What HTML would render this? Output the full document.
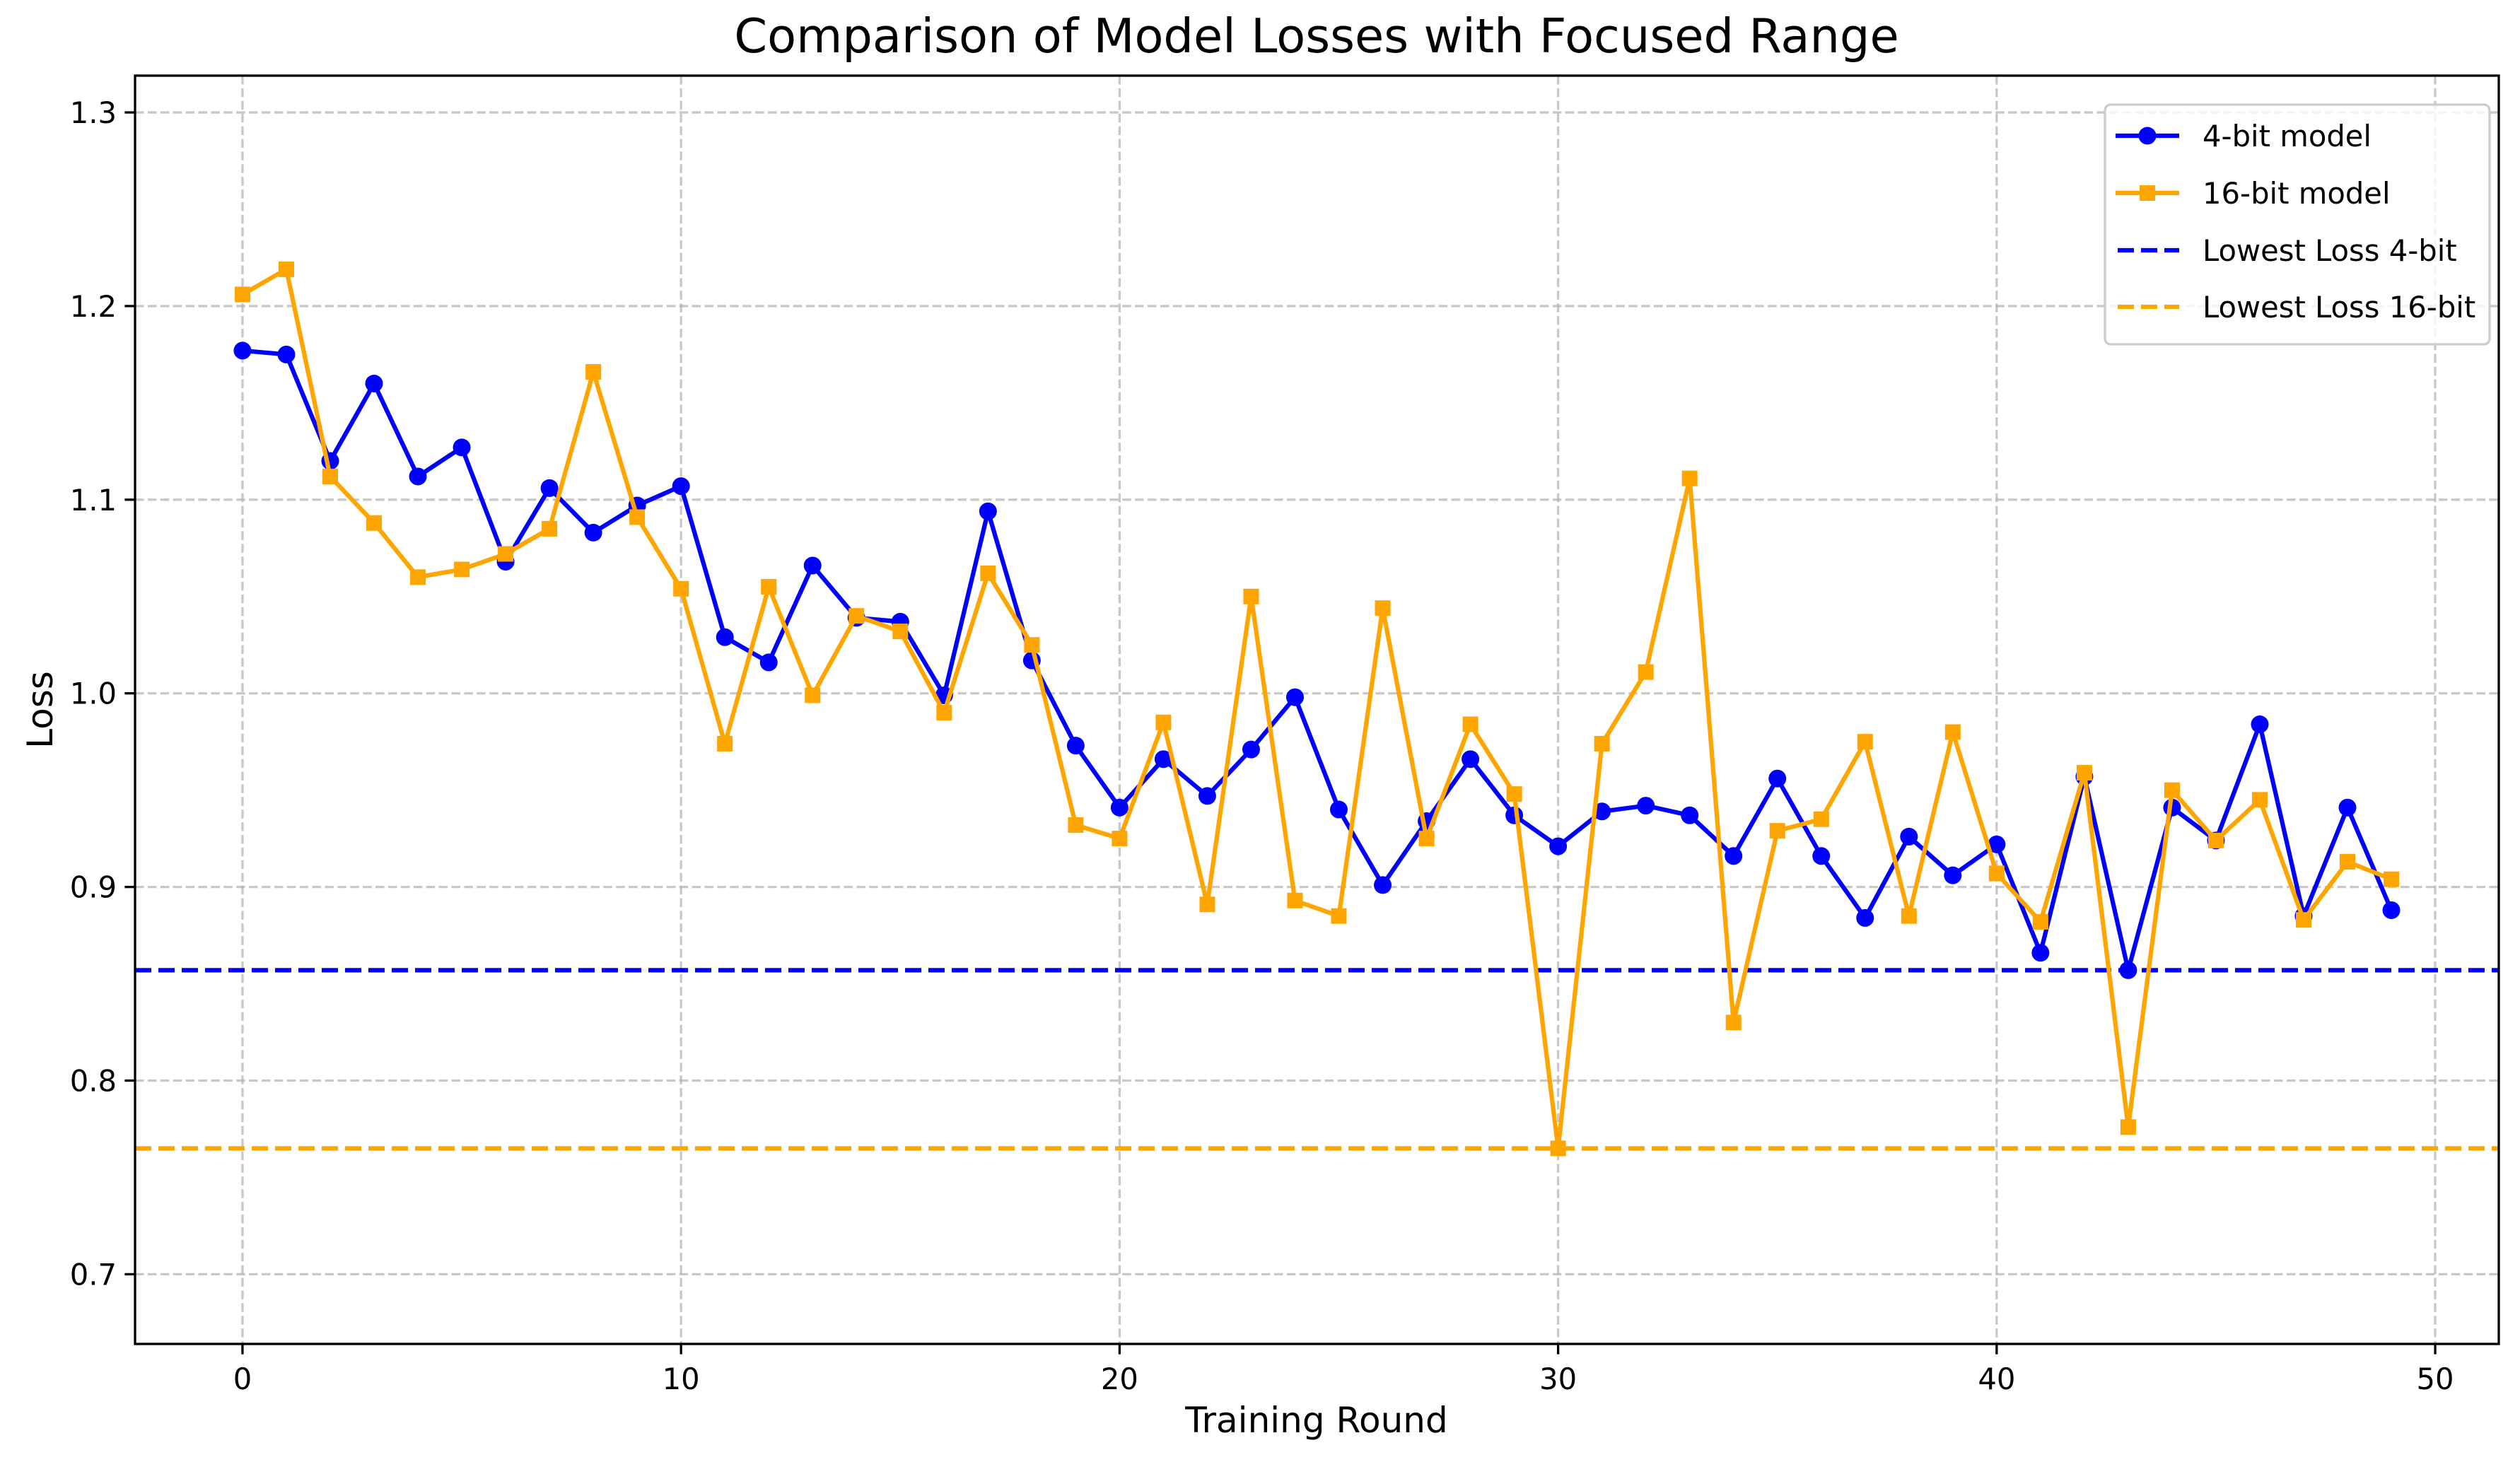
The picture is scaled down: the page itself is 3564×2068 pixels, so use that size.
<!DOCTYPE html>
<html><head><meta charset="utf-8"><style>html,body{margin:0;padding:0;background:#fff}svg{display:block}text{font-family:"DejaVu Sans","Liberation Sans",sans-serif}</style></head>
<body>
<svg id="chart" width="3564" height="2068" xmlns="http://www.w3.org/2000/svg"></svg>
<script>
const rounds = Array.from({length:50},(_,i)=>i);
const loss4 = [1.177,1.175,1.120,1.160,1.112,1.127,1.068,1.106,1.083,1.097,1.107,1.029,1.016,1.066,1.039,1.037,0.999,1.094,1.017,0.973,0.941,0.966,0.947,0.971,0.998,0.940,0.901,0.934,0.966,0.937,0.921,0.939,0.942,0.937,0.916,0.956,0.916,0.884,0.926,0.906,0.922,0.866,0.957,0.857,0.941,0.924,0.984,0.885,0.941,0.888];
const loss16 = [1.206,1.219,1.112,1.088,1.060,1.064,1.072,1.085,1.166,1.091,1.054,0.974,1.055,0.999,1.040,1.032,0.990,1.062,1.025,0.932,0.925,0.985,0.891,1.050,0.893,0.885,1.044,0.925,0.984,0.948,0.765,0.974,1.011,1.111,0.830,0.929,0.935,0.975,0.885,0.980,0.907,0.882,0.959,0.776,0.950,0.924,0.945,0.883,0.913,0.904];
const xTicks = [0,10,20,30,40,50];
const yTicks = [0.7,0.8,0.9,1.0,1.1,1.2,1.3];
const yTickLabels = ["0.7","0.8","0.9","1.0","1.1","1.2","1.3"];

const L=191,R=3534,T=107,B=1901;
const xmin=-2.45,xmax=51.45;
const ymin=0.664,ymax=1.319;
const X=v=>L+(v-xmin)/(xmax-xmin)*(R-L);
const Y=v=>B-(v-ymin)/(ymax-ymin)*(B-T);
const svg=document.getElementById('chart');
const NS='http://www.w3.org/2000/svg';
function mk(tag,attrs,parent){const e=document.createElementNS(NS,tag);for(const k in attrs)e.setAttribute(k,attrs[k]);(parent||svg).appendChild(e);return e;}

xTicks.forEach(t=>{const g=mk('line',{x1:X(t),x2:X(t),y1:T,y2:B,stroke:'#b0b0b0','stroke-opacity':0.7,'stroke-width':3.3,'stroke-dasharray':'12.5,5.4'});

});
yTicks.forEach(t=>{const g=mk('line',{x1:L,x2:R,y1:Y(t),y2:Y(t),stroke:'#b0b0b0','stroke-opacity':0.7,'stroke-width':3.3,'stroke-dasharray':'12.5,5.4'});

});

const min4=Math.min(...loss4), min16=Math.min(...loss16);
const m4=mk('line',{x1:L,x2:R,y1:Y(min4),y2:Y(min4),stroke:'#0000ff','stroke-width':6.25,'stroke-dasharray':'23,10'});


const m16=mk('line',{x1:L,x2:R,y1:Y(min16),y2:Y(min16),stroke:'#ffa500','stroke-width':6.25,'stroke-dasharray':'23,10'});



const p4=mk('polyline',{points:rounds.map((r,i)=>X(r)+','+Y(loss4[i])).join(' '),fill:'none',stroke:'#0000ff','stroke-width':6.25,'stroke-linejoin':'round'});


rounds.forEach((r,i)=>{const c=mk('circle',{cx:X(r),cy:Y(loss4[i]),r:12.5,fill:'#0000ff'});

});
const p16=mk('polyline',{points:rounds.map((r,i)=>X(r)+','+Y(loss16[i])).join(' '),fill:'none',stroke:'#ffa500','stroke-width':6.25,'stroke-linejoin':'round'});


rounds.forEach((r,i)=>{const s=mk('rect',{x:X(r)-11,y:Y(loss16[i])-11,width:22,height:22,fill:'#ffa500'});

});

const fr=mk('rect',{x:L,y:T,width:R-L,height:B-T,fill:'none',stroke:'#000','stroke-width':3.3});



xTicks.forEach(t=>{const tk=mk('line',{x1:X(t),x2:X(t),y1:B,y2:B+14.6,stroke:'#000','stroke-width':3.3});


const tx=mk('text',{x:X(t),y:1965,'font-size':41.7,'text-anchor':'middle'});tx.textContent=t;

});
yTicks.forEach((t,i)=>{const tk=mk('line',{x1:L-14.6,x2:L,y1:Y(t),y2:Y(t),stroke:'#000','stroke-width':3.3});


const tx=mk('text',{x:L-26,y:Y(t)+15,'font-size':41.7,'text-anchor':'end'});tx.textContent=yTickLabels[i];

});
</script>
<svg style="position:absolute;left:0;top:0" width="3564" height="2068" xmlns="http://www.w3.org/2000/svg">
<text x="1862" y="74" font-size="67" text-anchor="middle" font-family="DejaVu Sans, Liberation Sans, sans-serif">Comparison of Model Losses with Focused Range</text>
<text x="1862" y="2026" font-size="50" text-anchor="middle" font-family="DejaVu Sans, Liberation Sans, sans-serif">Training Round</text>
<text x="0" y="0" font-size="50" text-anchor="middle" transform="translate(74,1004) rotate(-90)" font-family="DejaVu Sans, Liberation Sans, sans-serif">Loss</text>
<g>
<rect x="2977" y="148" width="544" height="339" rx="8" fill="#fff" fill-opacity="0.8" stroke="#cccccc" stroke-width="3.3"/>
<g>
<line x1="2992" x2="3082" y1="192" y2="192" stroke="#0000ff" stroke-width="6.25"/><circle cx="3037" cy="192" r="12.5" fill="#0000ff"/>
<text x="3115" y="207" font-size="41.7" font-family="DejaVu Sans, Liberation Sans, sans-serif">4-bit model</text></g>
<g>
<line x1="2992" x2="3082" y1="273" y2="273" stroke="#ffa500" stroke-width="6.25"/><rect x="3026" y="262" width="22" height="22" fill="#ffa500"/>
<text x="3115" y="288" font-size="41.7" font-family="DejaVu Sans, Liberation Sans, sans-serif">16-bit model</text></g>
<g>
<line x1="2995" x2="3082" y1="354" y2="354" stroke="#0000ff" stroke-width="6.25" stroke-dasharray="23,10"/>
<text x="3115" y="369" font-size="41.7" font-family="DejaVu Sans, Liberation Sans, sans-serif">Lowest Loss 4-bit</text></g>
<g>
<line x1="2995" x2="3082" y1="434" y2="434" stroke="#ffa500" stroke-width="6.25" stroke-dasharray="23,10"/>
<text x="3115" y="449" font-size="41.7" font-family="DejaVu Sans, Liberation Sans, sans-serif">Lowest Loss 16-bit</text></g>
</g>
</svg>
</body></html>
